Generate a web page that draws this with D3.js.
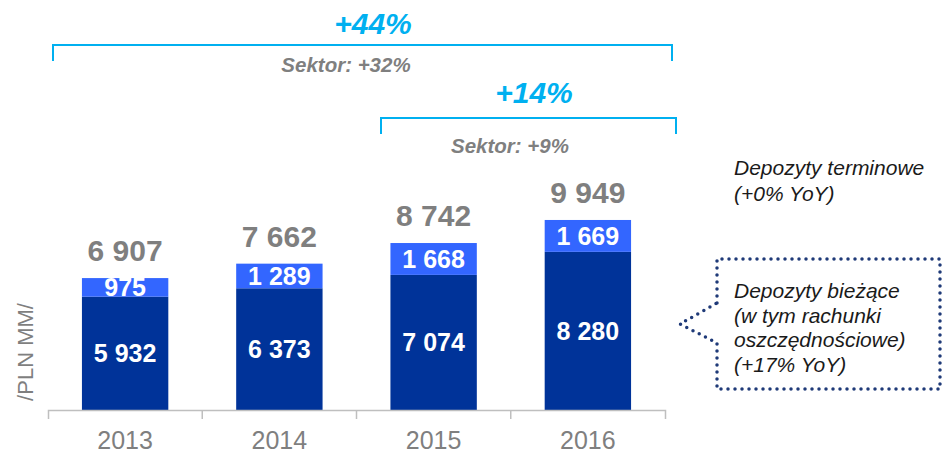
<!DOCTYPE html>
<html>
<head>
<meta charset="utf-8">
<script src="https://cdnjs.cloudflare.com/ajax/libs/d3/7.8.5/d3.min.js"></script>
<style>
  html, body { margin: 0; padding: 0; background: #fff; }
  svg { display: block; font-family: Arial, "Liberation Sans", sans-serif; }
</style>
</head>
<body>
<div id="svg-container"></div>
<script>
/** Chart data */
const years = ["2013", "2014", "2015", "2016"];
const biezace = [5932, 6373, 7074, 8280];     // Depozyty bieżące (bottom)
const terminowe = [975, 1289, 1668, 1669];    // Depozyty terminowe (top)
const totals = [6907, 7662, 8742, 9949];

const growthLabels = ["+44%", "+14%"];
const sectorLabels = ["Sektor: +32%", "Sektor: +9%"];
const legendTop = ["Depozyty terminowe", "(+0% YoY)"];
const legendBottom = ["Depozyty bieżące", "(w tym rachunki", "oszczędnościowe)", "(+17% YoY)"];

drawSvg();

function drawSvg() {
  const w = 943;
  const h = 455;

  const darkBlue = "#003399";
  const lightBlue = "#3366ff";
  const cyan = "#00b0f0";
  const grey = "#7f7f7f";

  const fmt = (v) => d3.format(",")(v).replace(/,/g, " ");

  const svg = d3.select("div#svg-container")
    .append("svg")
    .attr("width", w)
    .attr("height", h);

  /** Scales */
  const x = d3.scaleBand()
    .domain(years)
    .range([48, 665])
    .padding(0);
  const barW = x.bandwidth() * 0.56;
  const barX = (d) => x(d) + (x.bandwidth() - barW) / 2;

  const y = d3.scaleLinear()
    .domain([0, 10000])
    .range([410, 219]);

  const rows = years.map((yr, i) => ({
    year: yr, low: biezace[i], high: terminowe[i], total: totals[i]
  }));

  const chart = svg.append("g").attr("id", "bar-chart");

  // bottom segments
  chart.selectAll("rect.low")
    .data(rows)
    .enter()
    .append("rect")
    .attr("class", "low")
    .attr("x", (d) => barX(d.year))
    .attr("y", (d) => y(d.low))
    .attr("width", barW)
    .attr("height", (d) => y(0) - y(d.low))
    .attr("fill", darkBlue);

  // top segments
  chart.selectAll("rect.high")
    .data(rows)
    .enter()
    .append("rect")
    .attr("class", "high")
    .attr("x", (d) => barX(d.year))
    .attr("y", (d) => y(d.low + d.high))
    .attr("width", barW)
    .attr("height", (d) => y(d.low) - y(d.low + d.high))
    .attr("fill", lightBlue);

  /** Value labels */
  chart.selectAll("text.low")
    .data(rows)
    .enter()
    .append("text")
    .attr("class", "low")
    .attr("x", (d) => x(d.year) + x.bandwidth() / 2)
    .attr("y", (d) => (y(0) + y(d.low)) / 2)
    .attr("dy", "0.36em")
    .style("text-anchor", "middle")
    .style("font-weight", "bold")
    .style("font-size", "25px")
    .attr("fill", "#fff")
    .text((d) => fmt(d.low));

  chart.selectAll("text.high")
    .data(rows)
    .enter()
    .append("text")
    .attr("class", "high")
    .attr("x", (d) => x(d.year) + x.bandwidth() / 2)
    .attr("y", (d) => (y(d.low) + y(d.low + d.high)) / 2)
    .attr("dy", "0.36em")
    .style("text-anchor", "middle")
    .style("font-weight", "bold")
    .style("font-size", "25px")
    .attr("fill", "#fff")
    .text((d) => fmt(d.high));

  chart.selectAll("text.total")
    .data(rows)
    .enter()
    .append("text")
    .attr("class", "total")
    .attr("x", (d) => x(d.year) + x.bandwidth() / 2)
    .attr("y", (d) => y(d.total) - 17)
    .style("text-anchor", "middle")
    .style("font-weight", "bold")
    .style("font-size", "30px")
    .attr("fill", grey)
    .text((d) => fmt(d.total));

  /** x-axis */
  const xAxis = d3.axisBottom(x).tickSize(0).tickSizeOuter(9);
  const gx = chart.append("g")
    .attr("id", "x-axis")
    .attr("transform", "translate(0," + y(0) + ")")
    .call(xAxis);
  gx.select(".domain").attr("stroke", "#bfbfbf").attr("stroke-width", 1.5);
  gx.selectAll(".tick text")
    .attr("y", 39)
    .attr("dy", null)
    .attr("fill", grey)
    .style("font-size", "25px")
    .style("font-family", "Arial, 'Liberation Sans', sans-serif");
  // separators between categories
  gx.selectAll("line.sep")
    .data(years.slice(1))
    .enter()
    .append("line")
    .attr("class", "sep")
    .attr("x1", (d) => x(d))
    .attr("x2", (d) => x(d))
    .attr("y1", 0)
    .attr("y2", 9)
    .attr("stroke", "#bfbfbf")
    .attr("stroke-width", 1.5);

  // y-axis label
  svg.append("text")
    .attr("transform", "translate(33,352) rotate(-90)")
    .style("text-anchor", "middle")
    .style("font-size", "22px")
    .attr("fill", grey)
    .text("/PLN MM/");

  /** Growth brackets */
  const brackets = [
    { x1: 53, x2: 672, y: 45, drop: 16, labelX: 373, labelY: 34, sectorX: 346, sectorY: 72 },
    { x1: 381, x2: 676, y: 118, drop: 16, labelX: 534, labelY: 103, sectorX: 510, sectorY: 153 }
  ];
  brackets.forEach((b, i) => {
    svg.append("path")
      .attr("d", "M" + b.x1 + "," + (b.y + b.drop) + "V" + b.y + "H" + b.x2 + "V" + (b.y + b.drop))
      .attr("fill", "none")
      .attr("stroke", cyan)
      .attr("stroke-width", 2);
    svg.append("text")
      .attr("x", b.labelX)
      .attr("y", b.labelY)
      .style("text-anchor", "middle")
      .style("font-weight", "bold")
      .style("font-style", "italic")
      .style("font-size", "30px")
      .attr("fill", cyan)
      .text(growthLabels[i]);
    svg.append("text")
      .attr("x", b.sectorX)
      .attr("y", b.sectorY)
      .style("text-anchor", "middle")
      .style("font-weight", "bold")
      .style("font-style", "italic")
      .style("font-size", "20.5px")
      .attr("fill", grey)
      .text(sectorLabels[i]);
  });

  /** Legend annotations */
  svg.append("g")
    .selectAll("text")
    .data(legendTop)
    .enter()
    .append("text")
    .attr("x", 734)
    .attr("y", (d, i) => 175 + i * 26)
    .style("font-style", "italic")
    .style("font-size", "21px")
    .attr("fill", "#1a1a1a")
    .text((d) => d);

  // dotted callout
  svg.append("path")
    .attr("d", "M717,303 V259 H940 V389 H717 V343 L680,324 Z")
    .attr("fill", "none")
    .attr("stroke", "#1f3a78")
    .attr("stroke-width", 3.5)
    .attr("stroke-linecap", "round")
    .attr("stroke-dasharray", "0 7");

  svg.append("g")
    .selectAll("text")
    .data(legendBottom)
    .enter()
    .append("text")
    .attr("x", 734)
    .attr("y", (d, i) => 298 + i * 24.7)
    .style("font-style", "italic")
    .style("font-size", "21px")
    .attr("fill", "#1a1a1a")
    .text((d) => d);
}
</script>
</body>
</html>
